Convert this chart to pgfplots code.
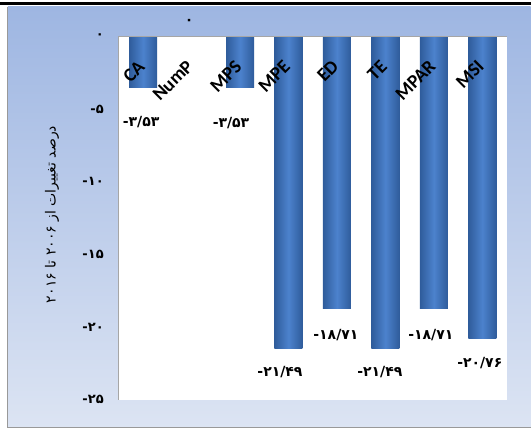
\documentclass[border=0pt]{standalone}
\usepackage{pgfplots}
\pgfplotsset{compat=1.18}
\usepackage{fontspec}
\setmainfont{Carlito}
\newfontfamily\fa[Script=Arabic]{DejaVu Sans}
\newfontfamily\fadig{DejaVu Sans}
\TeXXeTstate=1
\definecolor{bgTop}{HTML}{9EB6E2}
\definecolor{bgBot}{HTML}{DCE4F3}
\definecolor{barEdge}{HTML}{2F5C9B}
\definecolor{barMid}{HTML}{4C82CD}
\pgfplotsset{barsty/.style={ybar, bar width=28pt, bar shift=0pt, draw=none, forget plot,
  left color=barEdge, right color=barEdge, middle color=barMid}}
\begin{document}
\begin{tikzpicture}[x=1pt,y=1pt]
\fill[white] (0,0) rectangle (531,430);
\shade[top color=bgTop, bottom color=bgBot] (8,2) rectangle (531,423);
\draw[gray!80, line width=0.8pt] (7.5,2) -- (7.5,423);
\draw[gray!80, line width=1pt] (7.5,2) -- (531,2);
\fill[black] (0,425) rectangle (531,428);
\begin{axis}[
  at={(119pt,30pt)}, anchor=south west,
  scale only axis, width=388pt, height=363.5pt,
  xmin=-0.5, xmax=7.5, ymin=-25, ymax=0,
  clip=false, axis on top=true,
  axis x line*=top, axis y line*=left,
  axis line style={gray!70, line width=0.8pt, -},
  axis background/.style={fill=white},
  major tick length=0pt,
  xtick={0,...,7},
  xticklabels={CA,NumP,MPS,MPE,ED,TE,MPAR,MSI},
  xticklabel style={inner sep=0pt, xshift=-1.5pt, yshift=-27pt, rotate=45, anchor=east, font=\fontsize{19}{19}\selectfont\bfseries},
  ytick={0,-5,-10,-15,-20,-25},
  yticklabels={۰,-۵,-۱۰,-۱۵,-۲۰,-۲۵},
  yticklabel style={anchor=east, inner sep=0pt, xshift=-15pt, font=\fadig\bfseries\fontsize{13}{13}\selectfont},
  ylabel={\fa\beginR درصد تغییرات از ۲۰۰۶ تا ۲۰۱۶\endR},
  every axis y label/.style={at={(axis description cs:-0.1727,0.51)}, rotate=90, anchor=center, font=\fontsize{14}{14}\selectfont},
]
\addplot[barsty] coordinates {(0,-3.53)};
\addplot[barsty] coordinates {(1,0)};
\addplot[barsty] coordinates {(2,-3.53)};
\addplot[barsty] coordinates {(3,-21.49)};
\addplot[barsty] coordinates {(4,-18.71)};
\addplot[barsty] coordinates {(5,-21.49)};
\addplot[barsty] coordinates {(6,-18.71)};
\addplot[barsty] coordinates {(7,-20.76)};
\addplot[draw=none, mark=none, forget plot,
  point meta=explicit symbolic,
  visualization depends on={\thisrow{dx} \as \dx},
  visualization depends on={\thisrow{dy} \as \dy},
  nodes near coords,
  nodes near coords style={anchor=center, inner sep=0pt, xshift=\dx pt, yshift=\dy pt, text=black, font=\fadig\bfseries\fontsize{14}{14}\selectfont},
] table[x=x, y=y, meta=lab] {
x y lab dx dy
0 -3.53 -۳/۵۳ -2 -34
1 0 ۰ -2.5 14.5
2 -3.53 -۳/۵۳ -9 -35
3 -21.49 -۲۱/۴۹ -8.5 -23
4 -18.71 -۱۸/۷۱ -1 -26.5
5 -21.49 -۲۱/۴۹ -5.5 -23
6 -18.71 -۱۸/۷۱ -3 -26.5
7 -20.76 -۲۰/۷۶ -2.5 -24.6
};
\end{axis}
\end{tikzpicture}
\end{document}
